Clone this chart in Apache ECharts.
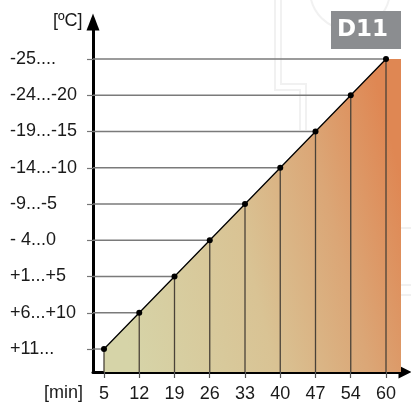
<!DOCTYPE html>
<html>
<head>
<meta charset="utf-8">
<script src="https://cdn.jsdelivr.net/npm/echarts@6/dist/echarts.min.js"></script>
<style>
html,body{margin:0;padding:0;background:#fff;}
#chart{width:411px;height:403px;}
</style>
</head>
<body>
<div id="chart"></div>
<script>
// ---- data ----
const timeLabels = ['5', '12', '19', '26', '33', '40', '47', '54', '60'];
const tempLabels = ['+11...', '+6...+10', '+1...+5', '- 4...0', '-9...-5', '-14...-10', '-19...-15', '-24...-20', '-25....'];
// each point: [time label, temperature band label]
const pointTimes = ['5', '12', '19', '26', '33', '40', '47', '54', '60'];
const pointTemps = ['+11...', '+6...+10', '+1...+5', '- 4...0', '-9...-5', '-14...-10', '-19...-15', '-24...-20', '-25....'];
const xUnit = '[min]';
const yUnit = '[\u00baC]';
const badgeText = 'D11';

// ---- build ----
const pts = pointTimes.map((t, i) => [timeLabels.indexOf(t), tempLabels.indexOf(pointTemps[i])]);
const idxX = timeLabels.map((_, i) => i);
const idxY = tempLabels.map((_, i) => i);
const FONT = 'Liberation Sans, Arial, sans-serif';
const fillExtend = 15;
const wm = '#f1f1f1';

const chart = echarts.init(document.getElementById('chart'), null, {renderer: 'canvas'});

const option = {
  animation: false,
  backgroundColor: '#ffffff',
  grid: {left: 93, right: 6, top: 22, bottom: 31, containLabel: false},
  xAxis: {
    type: 'value', min: -0.312, max: 8.539,
    splitLine: {show: false},
    axisLine: {show: true, onZero: false, lineStyle: {color: '#000', width: 3}, symbol: ['none', 'triangle'], symbolSize: [13, 13], symbolOffset: [0, 0]},
    axisTick: {show: true, customValues: idxX, length: 6, lineStyle: {color: '#555', width: 1.2}},
    axisLabel: {customValues: idxX, formatter: v => timeLabels[Math.round(v)], color: '#1a1a1a', fontSize: 18, fontFamily: FONT, margin: 13}
  },
  yAxis: {
    type: 'value', min: -0.634, max: 9.021,
    splitLine: {show: false},
    axisLine: {show: true, onZero: false, lineStyle: {color: '#000', width: 3}, symbol: ['none', 'triangle'], symbolSize: [13, 17], symbolOffset: [0, 0]},
    axisTick: {show: true, customValues: idxY, length: 6, lineStyle: {color: '#777', width: 1.2}},
    axisLabel: {customValues: idxY, formatter: v => tempLabels[Math.round(v)], color: '#1a1a1a', fontSize: 18, fontFamily: FONT, align: 'left', margin: 83}
  },
  series: [
    {
      type: 'custom', z: 1, silent: true,
      data: [0],
      renderItem: function (params, api) {
        const cs = params.coordSys;
        const bottom = cs.y + cs.height;
        const p = pts.map(d => api.coord(d));
        const last = p[p.length - 1];
        const poly = p.slice();
        poly.push([last[0] + fillExtend, last[1]]);
        poly.push([last[0] + fillExtend, bottom]);
        poly.push([p[0][0], bottom]);
        return {
          type: 'polygon',
          shape: {points: poly},
          style: {
            fill: new echarts.graphic.LinearGradient(0, 0.62, 1, 0.38, [
              {offset: 0, color: '#d6d4a8'},
              {offset: 0.45, color: '#d9c394'},
              {offset: 0.75, color: '#dba676'},
              {offset: 1, color: '#df8753'}
            ]),
            stroke: null
          }
        };
      }
    },
    {
      type: 'custom', z: 2, silent: true,
      data: pts,
      renderItem: function (params, api) {
        const cs = params.coordSys;
        const bottom = cs.y + cs.height;
        const c = api.coord([api.value(0), api.value(1)]);
        return {
          type: 'group',
          children: [
            {type: 'line', shape: {x1: cs.x, y1: c[1], x2: c[0], y2: c[1]}, style: {stroke: '#7a7a7a', lineWidth: 1.3}},
            {type: 'line', shape: {x1: c[0], y1: c[1], x2: c[0], y2: bottom}, style: {stroke: '#4a4238', lineWidth: 1.3}}
          ]
        };
      }
    },
    {
      type: 'line', z: 3, silent: true,
      data: pts,
      symbol: 'circle', symbolSize: 6,
      itemStyle: {color: '#000'},
      lineStyle: {color: '#000', width: 1.3}
    }
  ],
  graphic: [
    // faint watermark
    {type: 'polyline', z: -10, silent: true, shape: {points: [[275, 0], [275, 90], [300, 90], [300, 130]]}, style: {stroke: wm, lineWidth: 2, fill: null}},
    {type: 'polyline', z: -10, silent: true, shape: {points: [[281, 0], [281, 84], [306, 84], [306, 130]]}, style: {stroke: wm, lineWidth: 2, fill: null}},
    {type: 'arc', z: -10, silent: true, shape: {cx: 350, cy: -10, r: 40, startAngle: 0, endAngle: Math.PI}, style: {stroke: wm, lineWidth: 2, fill: null}},
    {type: 'line', z: -10, silent: true, shape: {x1: 400, y1: 228, x2: 411, y2: 228}, style: {stroke: wm, lineWidth: 2}},
    {type: 'line', z: -10, silent: true, shape: {x1: 400, y1: 285, x2: 411, y2: 285}, style: {stroke: wm, lineWidth: 2}},
    {type: 'line', z: -10, silent: true, shape: {x1: 400, y1: 295, x2: 411, y2: 295}, style: {stroke: wm, lineWidth: 2}},
    {type: 'text', left: 53, top: 12, style: {text: yUnit, fontSize: 18, fontFamily: FONT, fill: '#1a1a1a'}},
    {type: 'text', left: 44, top: 384, style: {text: xUnit, fontSize: 18, fontFamily: FONT, fill: '#1a1a1a'}},
    {type: 'rect', left: 331, top: 11, shape: {width: 70, height: 38}, style: {fill: '#8b8d90'}},
    {type: 'text', left: 337, top: 19, style: {text: badgeText, fontSize: 23, fontWeight: 'bold', fontFamily: 'DejaVu Sans', fill: '#ffffff'}}
  ]
};
chart.setOption(option);
</script>
</body>
</html>
